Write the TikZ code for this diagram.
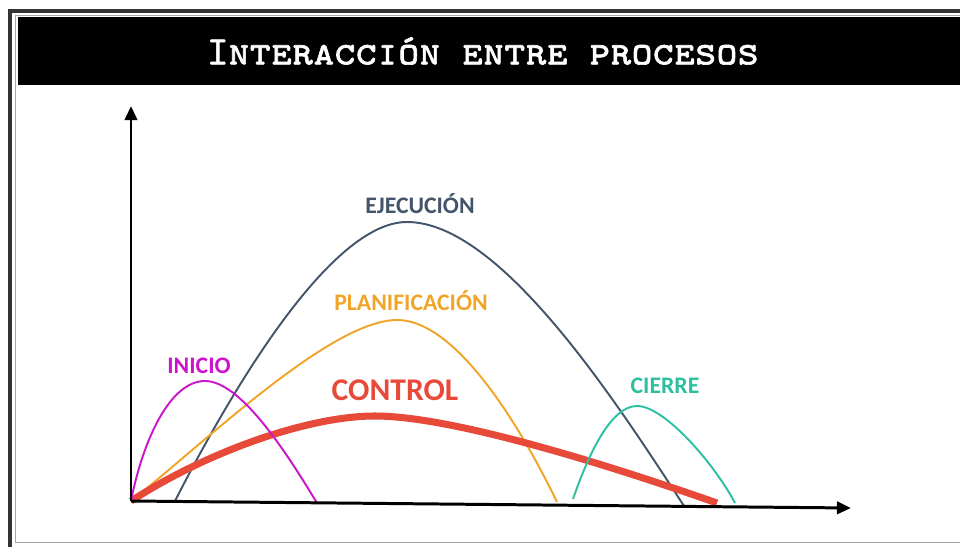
\documentclass[tikz,border=0pt]{standalone}
\usepackage{fontspec}
\usepackage{tikz}
\usetikzlibrary{arrows.meta}
\newfontfamily\carlito{Carlito}
\newfontfamily\titlefont{lmmonocaps10-regular.otf}[FakeBold=1.6]
\definecolor{ejecol}{HTML}{44546A}
\definecolor{plancol}{RGB}{240,165,40}
\definecolor{iniciocol}{RGB}{204,20,204}
\definecolor{controlcol}{RGB}{232,74,58}
\definecolor{cierrecol}{RGB}{44,192,160}
\tikzstyle{phase}=[font=\carlito\bfseries\fontsize{13.5}{14}\selectfont, inner sep=0pt]
\tikzstyle{bigphase}=[phase, font=\carlito\bfseries\fontsize{18}{19}\selectfont]
\tikzstyle{curve}=[line width=1.1pt]
\tikzstyle{axis}=[line width=1.7pt, -{Triangle[length=8pt,width=7pt]}]

\begin{document}
\begin{tikzpicture}[x=0.02cm,y=-0.02cm]
\useasboundingbox (0,0) rectangle (960,547);
% frame
\fill[black!80] (8,9) rectangle (960,13);
\fill[black!80] (8,9) rectangle (12,547);
\draw[gray!70, line width=0.8pt] (960,15.5) -- (15.5,15.5) -- (15.5,542.5) -- (960,542.5);
% header
\fill[black] (18,17) rectangle (960,85);
\path (483,51) node [white, inner sep=0pt, font=\titlefont\fontsize{23}{23}\selectfont] (title) {Interacción entre procesos};
% Ejecucion
\draw[curve, ejecol] (175,501) .. controls (230,393) and (330,222) .. (407,222)
  .. controls (500,222) and (615,400) .. (684,506);
\path (420,204) node [phase, ejecol] (ejec) {EJECUCIÓN};
% Planificacion
\draw[curve, plancol] (131,501) .. controls (200,447) and (330,320) .. (397,320)
  .. controls (460,320) and (527,440) .. (557,502);
\path (411,301) node [phase, plancol] (plan) {PLANIFICACIÓN};
% Control
\draw[line width=4pt, controlcol] (131,501) .. controls (210,450) and (310,416) .. (375,416)
  .. controls (450,416) and (600,462) .. (717,503);
\path (395,390) node [bigphase, controlcol] (control) {CONTROL};
% Inicio
\draw[curve, iniciocol] (131,501) .. controls (143,440) and (170,381) .. (205,381)
  .. controls (240,381) and (285,450) .. (317,503);
\path (199,366) node [phase, iniciocol] (inicio) {INICIO};
% Cierre
\draw[curve, cierrecol] (573,499) .. controls (590,450) and (612,406) .. (637,406)
  .. controls (665,406) and (715,465) .. (735,503);
\path (665,386) node [phase, cierrecol] (cierre) {CIERRE};
% axes
\coordinate (O) at (131,501);
\coordinate (ytip) at (131,106);
\coordinate (xtip) at (851,508);
\draw[axis] (O) -- (ytip);
\draw[axis] (O) -- (xtip);
\end{tikzpicture}
\end{document}
